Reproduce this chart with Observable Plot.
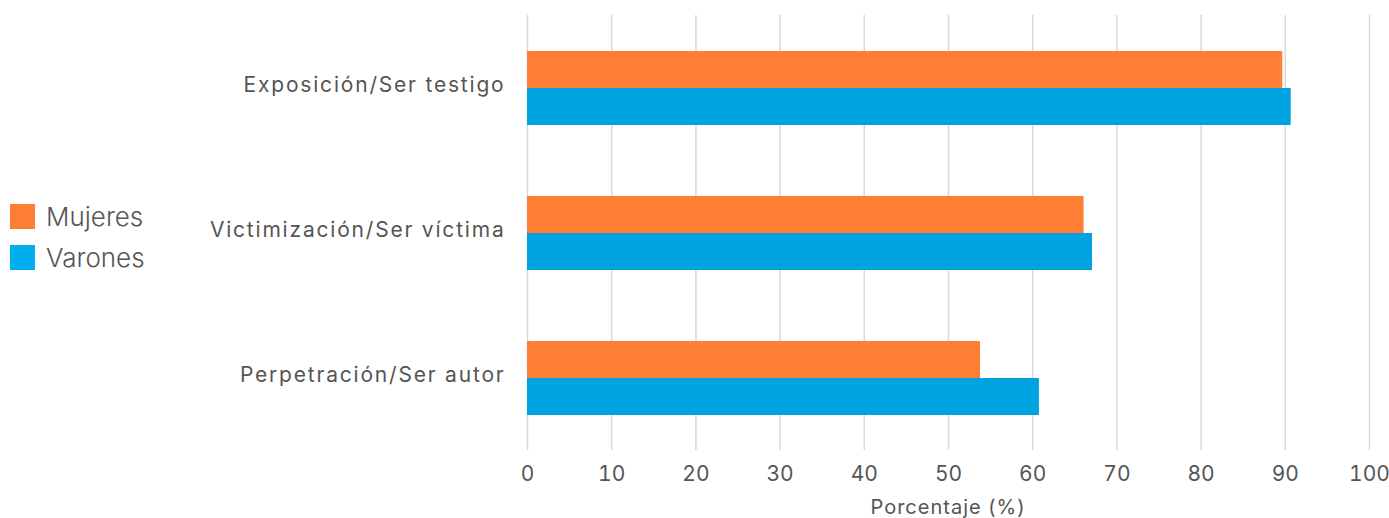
<!DOCTYPE html>
<html>
<head>
<meta charset="utf-8">
<script src="https://cdn.jsdelivr.net/npm/d3@7"></script>
<script src="https://cdn.jsdelivr.net/npm/@observablehq/plot@0.6"></script>
<style>
  html, body { margin: 0; padding: 0; background: #fff; }
  #wrap { position: relative; width: 1389px; height: 518px; font-family: Inter, "Noto Sans", sans-serif; }
  #legend { position: absolute; left: 10px; top: 196px; color: #555; font-weight: 300; font-size: 26px; }
  .item { display: flex; align-items: center; height: 41px; }
  .sw { width: 25px; height: 25px; margin-right: 11px; }
  g[aria-label="fy-axis tick label"] text { letter-spacing: 1.8px; }
</style>
</head>
<body>
<div id="wrap"><div id="legend"></div></div>
<script>
const categories = ["Exposición/Ser testigo", "Victimización/Ser víctima", "Perpetración/Ser autor"];
const series = ["Mujeres", "Varones"];
const mujeres = [89.7, 66.1, 53.8];
const varones = [90.7, 67.1, 60.8];
const colors = ["#FE7F33", "#00A3E0"];
const xTicks = [0, 10, 20, 30, 40, 50, 60, 70, 80, 90, 100];

const data = [];
categories.forEach((c, i) => {
  data.push({cat: c, sex: "Mujeres", v: mujeres[i]});
  data.push({cat: c, sex: "Varones", v: varones[i]});
});

const chart = Plot.plot({
  width: 1389,
  height: 518,
  marginTop: 15,
  marginBottom: 68,
  marginLeft: 527,
  marginRight: 20,
  style: {fontFamily: "Inter, 'Noto Sans', sans-serif", color: "#555", background: "transparent", overflow: "visible"},
  x: {domain: [0, 100], ticks: xTicks, label: null, axis: null},
  fy: {domain: categories, padding: 0, label: null, axis: null},
  y: {domain: series, paddingInner: 0, paddingOuter: 0.908, axis: null},
  color: {domain: series, range: colors},
  marks: [
    Plot.ruleX(xTicks, {x: d => d, stroke: "#d9d9d9", strokeWidth: 1.5}),
    Plot.barX(data, {fy: "cat", y: "sex", x: "v", fill: "sex", insetTop: 0, insetBottom: 0}),
    Plot.axisFy({anchor: "left", tickSize: 0, tickPadding: 22, fontSize: 21, fill: "#555", label: null, dy: -3}),
    Plot.axisX({anchor: "bottom", ticks: xTicks, tickSize: 0, tickPadding: 16, fontSize: 21, fill: "#555", label: null})
  ]
});
const wrap = document.getElementById("wrap");
wrap.appendChild(chart);

const svg = d3.select(chart);
svg.append("text")
  .attr("x", (527 + 1369) / 2)
  .attr("y", 514)
  .attr("text-anchor", "middle")
  .attr("fill", "#555")
  .attr("font-size", 20)
  .attr("letter-spacing", "1px")
  .attr("font-family", "Inter, 'Noto Sans', sans-serif")
  .text("Porcentaje (%)");

const legend = document.getElementById("legend");
series.forEach((s, i) => {
  const it = document.createElement("div");
  it.className = "item";
  const sw = document.createElement("div");
  sw.className = "sw";
  sw.style.background = i === 0 ? colors[0] : "#00AEEF";
  const t = document.createElement("span");
  t.textContent = s;
  it.appendChild(sw); it.appendChild(t);
  legend.appendChild(it);
});
</script>
</body>
</html>
